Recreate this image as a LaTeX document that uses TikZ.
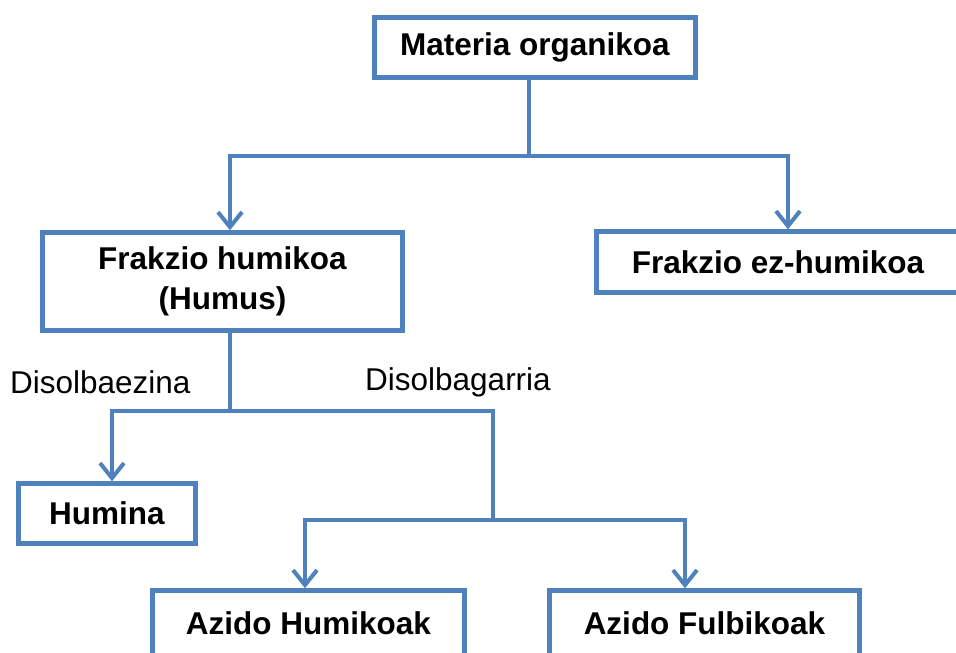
\documentclass[tikz,border=0pt]{standalone}
\usepackage{fontspec}
\setmainfont{Liberation Sans}
\usetikzlibrary{arrows.meta,positioning}
\definecolor{boxblue}{RGB}{79,129,189}
\tikzset{>={Straight Barb[length=15pt,width=24pt]}}
\tikzset{box/.style={draw=boxblue,line width=4.5pt,fill=white,align=center,inner sep=0pt,
    font=\bfseries\fontsize{31.5}{40}\selectfont}}
\tikzset{link/.style={draw=boxblue,line width=4pt}}
\tikzset{lbl/.style={inner sep=0pt,font=\fontsize{31.5}{40}\selectfont}}

\begin{document}
\begin{tikzpicture}[x=1pt,y=-1pt]
    \clip (0,0) rectangle (956,653);
    \useasboundingbox (0,0) rectangle (956,653);
    % boxes
    \node[box,minimum width=321pt,minimum height=60pt] (mat) at (535,47.5) {Materia organikoa};
    \node[box,minimum width=360pt,minimum height=98pt] (humus) at (222.5,281.5) {Frakzio humikoa\\(Humus)};
    \node[box,minimum width=363pt,minimum height=61pt] (ez) at (778,262) {Frakzio ez-humikoa};
    \node[box,minimum width=177pt,minimum height=60pt] (humina) at (107,513.5) {Humina};
    \node[box,minimum width=312pt,minimum height=65pt] (azh) at (308.5,623) {Azido Humikoak};
    \node[box,minimum width=310pt,minimum height=65pt] (azf) at (704.5,623) {Azido Fulbikoak};
    % labels
    \node[lbl,anchor=base west] (insol) at (10,393) {Disolbaezina};
    \node[lbl,anchor=base west] (sol) at (365,390) {Disolbagarria};
    % connectors
    \coordinate (fork1) at (529,156);
    \coordinate (fork2) at (230,411);
    \coordinate (fork3) at (493,520);
    \draw[link] (mat.south -| fork1) -- (fork1);
    \draw[link,->] (fork1) -| ([xshift=7.5pt]humus.north);
    \draw[link,->] (fork1) -| ([xshift=10pt]ez.north);
    \draw[link] (humus.south -| fork2) -- (fork2);
    \draw[link,->] (fork2) -| ([xshift=5pt]humina.north);
    \draw[link] (fork2) -| (fork3);
    \draw[link,->] (fork3) -| ([xshift=-3.5pt]azh.north);
    \draw[link,->] (fork3) -| ([xshift=-19.5pt]azf.north);
\end{tikzpicture}
\end{document}
